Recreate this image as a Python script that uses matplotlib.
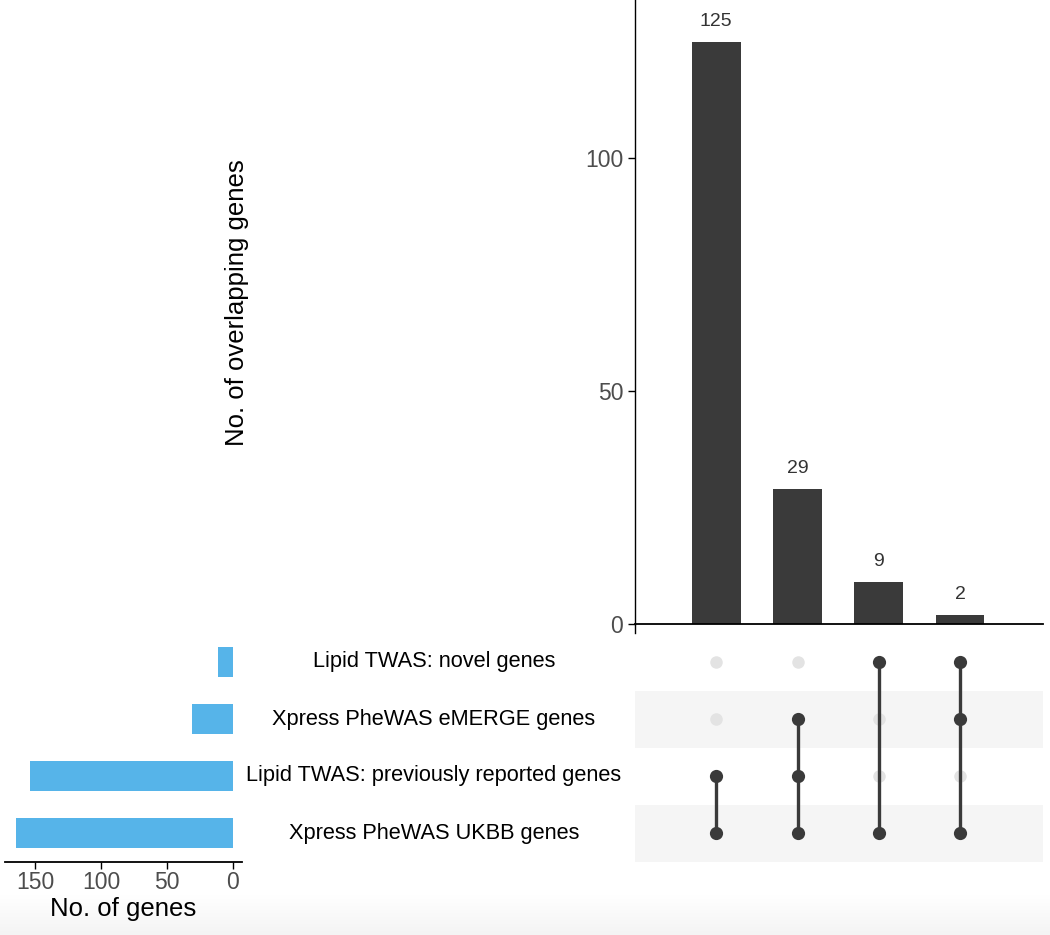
import numpy as np
import matplotlib
matplotlib.use('Agg')
import matplotlib.pyplot as plt

plt.rcParams['font.family'] = ['Liberation Sans', 'DejaVu Sans']

# sets (top to bottom in the matrix) and their sizes
set_names = ['Lipid TWAS: novel genes', 'Xpress PheWAS eMERGE genes',
             'Lipid TWAS: previously reported genes', 'Xpress PheWAS UKBB genes']
set_sizes = [11, 31, 154, 165]

# intersections: counts and which sets are members (row indices)
inter_counts = [125, 29, 9, 2]
inter_members = [[2, 3], [1, 2, 3], [0, 3], [0, 1, 3]]

dark = '#3a3a3a'
light_dot = '#e3e3e3'
blue = '#56B4E9'
tick_grey = '#4d4d4d'

W, H = 1050, 935
fig = plt.figure(figsize=(W / 100, H / 100), dpi=100)

def box(x0, y0, x1, y1):
    # pixel box (top-left origin) -> figure fraction rect
    return [x0 / W, 1 - y1 / H, (x1 - x0) / W, (y1 - y0) / H]

# faint grey strip at the very bottom (screenshot shading)
bg = fig.add_axes([0, 0, 1, 40 / H])
grad = np.linspace(1, 0, 50).reshape(-1, 1)
bg.imshow(grad, aspect='auto', cmap=matplotlib.colors.LinearSegmentedColormap.from_list('g', ['#f4f4f4', '#ffffff']),
          extent=[0, 1, 0, 1], vmin=0, vmax=1)
bg.axis('off')

# intersection size bars
ax = fig.add_axes(box(635, 0, 1043, 624))
x = np.arange(len(inter_counts))
ax.bar(x, inter_counts, width=0.6, color=dark)
for xi, c in zip(x, inter_counts):
    ax.text(xi, c + 2.5, str(c), ha='center', va='bottom', fontsize=14, color='#333333')
ax.set_xlim(-1, 4.02)
ax.set_ylim(0, 134)
ax.set_yticks([0, 50, 100])
ax.set_xticks([])
ax.tick_params(axis='y', labelsize=16.5, labelcolor=tick_grey, color='black', length=5, width=1)
for s in ['top', 'right']:
    ax.spines[s].set_visible(False)
ax.spines['left'].set_linewidth(1)
ax.spines['bottom'].set_linewidth(1.3)
# y axis line pokes a little below zero
ax.plot([-1, -1], [0, -2], color='black', lw=1, clip_on=False)
fig.text(237 / W, 1 - 303 / H, 'No. of overlapping genes', rotation=90,
         ha='center', va='center', fontsize=18.5, color='black')

# matrix
mx = fig.add_axes(box(635, 633.5, 1043, 861.5))
nrows = len(set_names)
for r in range(nrows):
    if r % 2 == 1:
        mx.axhspan(r - 0.5, r + 0.5, color='#f5f5f5', zorder=0, lw=0)
for xi, members in zip(x, inter_members):
    for r in range(nrows):
        if r not in members:
            mx.plot(xi, r, 'o', color=light_dot, ms=9, mec='none', zorder=1)
    mx.plot([xi, xi], [min(members), max(members)], color=dark, lw=2.4, zorder=2)
    mx.plot([xi] * len(members), members, 'o', color=dark, ms=9.5, mec='none', zorder=3)
mx.set_xlim(-1, 4.02)
mx.set_ylim(nrows - 0.5, -0.5)
mx.axis('off')

# set size bars
sx = fig.add_axes(box(5, 633.5, 242, 861.5))
sx.barh(np.arange(nrows), set_sizes, height=0.53, color=blue)
sx.set_xlim(173, -7.2)
sx.set_ylim(nrows - 0.5, -0.5)
sx.set_yticks([])
sx.set_xticks([150, 100, 50, 0])
sx.tick_params(axis='x', labelsize=16.5, labelcolor=tick_grey, length=5, width=1, pad=2)
for s in ['top', 'right', 'left']:
    sx.spines[s].set_visible(False)
sx.spines['bottom'].set_linewidth(1.3)
sx.set_xlabel('No. of genes', fontsize=18.5, color='black', labelpad=2)

# set names between the two panels
for r, name in enumerate(set_names):
    yc = 662 + 57 * r
    fig.text(434 / W, 1 - yc / H, name, ha='center', va='center', fontsize=15.7, color='black')

fig.savefig('out.png', dpi=100)
